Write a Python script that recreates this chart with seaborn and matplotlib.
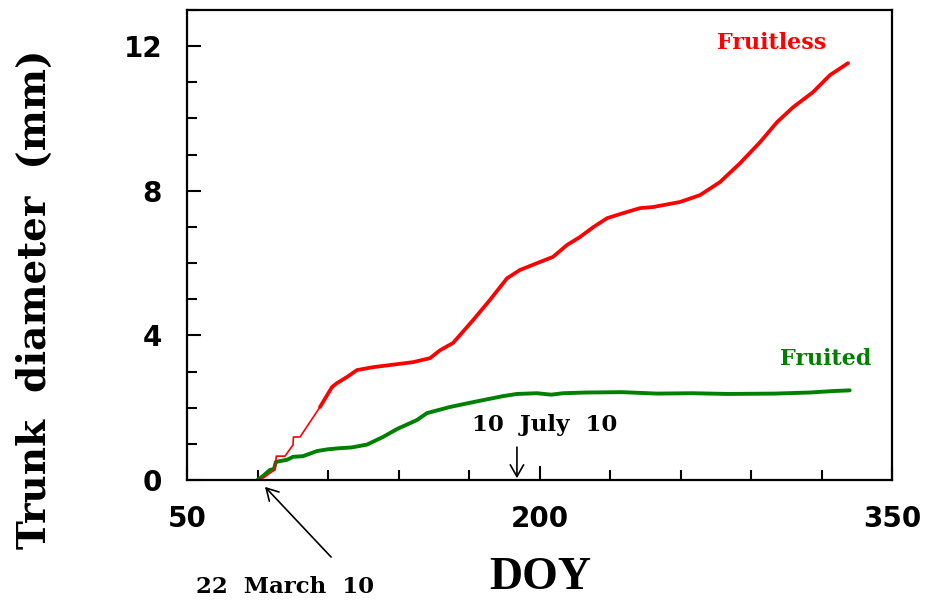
import numpy as np
import pandas as pd
import matplotlib
matplotlib.use("Agg")
import matplotlib.pyplot as plt
import seaborn as sns
from matplotlib.ticker import FixedLocator, MultipleLocator

# ---- data ----
red_doy = [81.0, 83.0, 85.3, 87.4, 88.0, 91.7, 95.1, 95.3, 98.1, 102.3, 106.6,
           111.7, 113.8, 118.1, 122.3, 129.1, 136.4, 146.2, 153.4, 157.7, 163.2,
           171.7, 178.9, 186.2, 191.7, 200.2, 205.7, 211.7, 217.2, 222.8, 228.7,
           235.5, 242.8, 248.3, 259.8, 268.3, 276.8, 285.3, 293.8, 301.1, 307.9,
           316.4, 323.6, 331.3]
red_mm = [0.0, 0.08, 0.19, 0.28, 0.66, 0.66, 0.97, 1.19, 1.19, 1.60, 2.02,
          2.57, 2.68, 2.85, 3.04, 3.12, 3.18, 3.26, 3.37, 3.59, 3.79,
          4.42, 4.98, 5.58, 5.81, 6.03, 6.17, 6.50, 6.72, 6.99, 7.24,
          7.38, 7.52, 7.55, 7.69, 7.88, 8.24, 8.76, 9.34, 9.90, 10.31,
          10.73, 11.20, 11.53]

green_doy = [80.0, 82.5, 85.3, 87.0, 87.8, 92.6, 95.1, 99.4, 105.3, 110.0,
             115.1, 120.0, 126.6, 133.4, 139.4, 147.9, 152.1, 161.9, 170.0,
             176.0, 184.5, 190.4, 198.9, 205.0, 210.0, 220.0, 235.0, 250.0,
             265.0, 280.0, 300.0, 315.0, 325.0, 332.0]
green_mm = [0.0, 0.12, 0.28, 0.30, 0.50, 0.56, 0.64, 0.66, 0.80, 0.85,
            0.88, 0.90, 0.98, 1.19, 1.41, 1.66, 1.85, 2.02, 2.13,
            2.21, 2.32, 2.38, 2.40, 2.36, 2.40, 2.42, 2.43, 2.39,
            2.40, 2.38, 2.39, 2.42, 2.46, 2.48]

x_major = [50, 200, 350]
x_minor = [80, 110, 140, 170, 230, 260, 290, 320]
y_major = [0, 4, 8, 12]

sns.set_style("ticks")
plt.rcParams["font.family"] = ["DejaVu Sans"]
plt.rcParams["text.color"] = "black"
plt.rcParams["xtick.color"] = "black"
plt.rcParams["ytick.color"] = "black"
plt.rcParams["xtick.labelcolor"] = "black"
plt.rcParams["ytick.labelcolor"] = "black"

fig = plt.figure(figsize=(9.3, 6.02), dpi=100)
ax = fig.add_axes([187 / 930, 122 / 602, 705 / 930, 470 / 602])

df_red = pd.DataFrame({"DOY": red_doy, "mm": red_mm})
df_green = pd.DataFrame({"DOY": green_doy, "mm": green_mm})

red_early = df_red[df_red.DOY <= 113.8]
red_late = df_red[df_red.DOY >= 106.6]

sns.lineplot(data=df_green, x="DOY", y="mm", color="#008000", lw=2.8,
             ax=ax, estimator=None, sort=False)
sns.lineplot(data=red_early, x="DOY", y="mm", color="#ff0000", lw=1.2,
             ax=ax, estimator=None, sort=False)
sns.lineplot(data=red_late, x="DOY", y="mm", color="#ff0000", lw=2.7,
             ax=ax, estimator=None, sort=False)

ax.set_xlim(50, 350)
ax.set_ylim(0, 13)
ax.xaxis.set_major_locator(FixedLocator(x_major))
ax.xaxis.set_minor_locator(FixedLocator(x_minor))
ax.yaxis.set_major_locator(FixedLocator(y_major))
ax.yaxis.set_minor_locator(MultipleLocator(1))
ax.tick_params(which="both", direction="in", width=1.5, color="black",
               top=False, right=False)
ax.tick_params(which="major", length=10, pad=18, labelsize=20,
               labelcolor="black")
ax.tick_params(which="minor", length=7)
for lab in ax.get_xticklabels() + ax.get_yticklabels():
    lab.set_fontweight("bold")
for sp in ax.spines.values():
    sp.set_visible(True)
    sp.set_linewidth(1.6)
    sp.set_color("black")
ax.set_xlabel("")
ax.set_ylabel("")

serif = ["DejaVu Serif"]
ax.text(298.9, 12.08, "Fruitless", color="#ff0000", fontsize=16,
        fontweight="bold", family=serif, ha="center", va="center")
ax.text(321.9, 3.35, "Fruited", color="#008000", fontsize=16,
        fontweight="bold", family=serif, ha="center", va="center")

arrow_kw = dict(arrowstyle="->,head_length=0.7,head_width=0.4", lw=1.2,
                color="black", shrinkA=0, shrinkB=0, mutation_scale=12)
ax.annotate("", xy=(83.2, -0.19), xytext=(111.3, -2.13),
            arrowprops=arrow_kw, annotation_clip=False)
ax.text(91.7, -2.96, "22  March  10", fontsize=16.5, fontweight="bold",
        family=serif, ha="center", va="center", clip_on=False)
ax.annotate("", xy=(190.4, 0.05), xytext=(190.4, 0.91),
            arrowprops=arrow_kw, annotation_clip=False)
ax.text(202.1, 1.52, "10  July  10", fontsize=16.5, fontweight="bold",
        family=serif, ha="center", va="center")

fig.text(540 / 930, 1 - 578 / 602, "DOY", fontsize=33, fontweight="bold",
         family=["Liberation Serif"], ha="center", va="center")
fig.text(35 / 930, 1 - 299 / 602, "Trunk  diameter  (mm)", fontsize=28,
         fontweight="bold", family=serif, rotation=90, ha="center",
         va="center")

fig.savefig("out.png", dpi=100)
